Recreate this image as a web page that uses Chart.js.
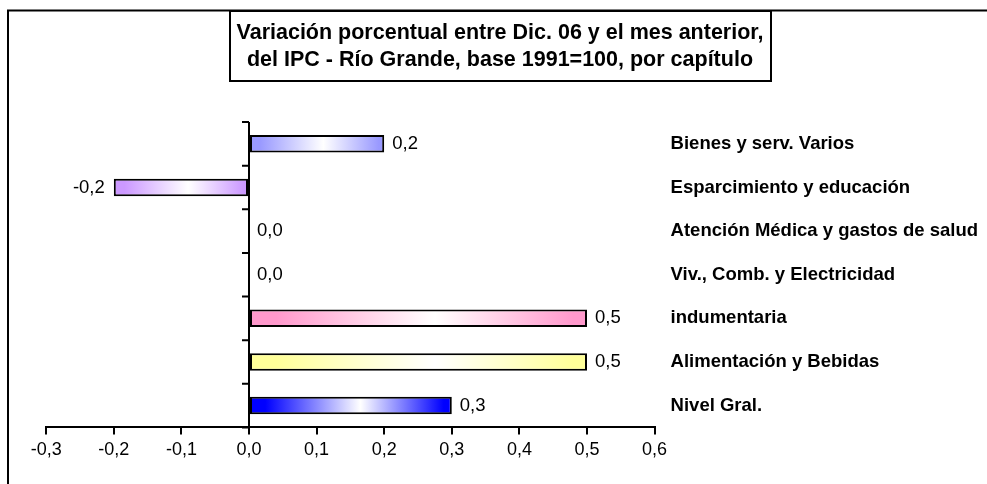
<!DOCTYPE html>
<html>
<head>
<meta charset="utf-8">
<script src="https://cdn.jsdelivr.net/npm/chart.js@4"></script>
<style>
  html, body { margin: 0; padding: 0; background: #fff; }
  #wrap { width: 987px; height: 484px; }
</style>
</head>
<body>
<div id="wrap"><canvas id="chart" width="987" height="484"></canvas></div>
<script>
const categories = [
    'Bienes y serv. Varios',
    'Esparcimiento y educación',
    'Atención Médica y gastos de salud',
    'Viv., Comb. y Electricidad',
    'indumentaria',
    'Alimentación y Bebidas',
    'Nivel Gral.'
];
const values = [0.2, -0.2, 0.0, 0.0, 0.5, 0.5, 0.3];
const barColors = ['#9999FF', '#CC99FF', '#99CCFF', '#FFCC99', '#FF99CC', '#FFFF99', '#0000FF'];
const titleLines = [
    'Variación porcentual entre Dic. 06 y el mes anterior,',
    'del IPC - Río Grande, base 1991=100, por capítulo'
];
const xMin = -0.3, xMax = 0.6, xStep = 0.1;

const FONT = "'Liberation Sans', Arial, sans-serif";
const TITLE_SIZE = 21.5;
const fmt = v => v.toFixed(1).replace('.', ',');

Chart.defaults.color = '#000';
Chart.defaults.font.family = FONT;

// bar fill: colour at both ends, white a bit right of the middle
function barFill(context) {
    const chart = context.chart;
    const c = barColors[context.dataIndex];
    if (!chart.chartArea) return c;
    const x = chart.scales.x;
    const x0 = x.getPixelForValue(0);
    const x1 = x.getPixelForValue(context.raw);
    if (Math.abs(x1 - x0) < 1) return c;
    const g = chart.ctx.createLinearGradient(Math.min(x0, x1), 0, Math.max(x0, x1), 0);
    g.addColorStop(0, c);
    g.addColorStop(0.08, c);
    g.addColorStop(0.55, '#FFFFFF');
    g.addColorStop(0.96, c);
    g.addColorStop(1, c);
    return g;
}

// outer frame (only left and top edges are visible in the picture)
const framePlugin = {
    id: 'frame',
    beforeDraw(chart) {
        const ctx = chart.ctx;
        ctx.save();
        ctx.strokeStyle = '#000';
        ctx.lineWidth = 2;
        ctx.beginPath();
        ctx.moveTo(8, chart.height);
        ctx.lineTo(8, 10.5);
        ctx.lineTo(chart.width, 10.5);
        ctx.stroke();
        ctx.restore();
    }
};

// box round the title
const titleBoxPlugin = {
    id: 'titleBox',
    afterDraw(chart) {
        const tb = chart.titleBlock;
        const ctx = chart.ctx;
        ctx.save();
        ctx.font = 'bold ' + TITLE_SIZE + 'px ' + FONT;
        const w = Math.max(...titleLines.map(t => ctx.measureText(t).width));
        const cx = (tb.left + tb.right) / 2;
        const top = tb.top + 11;
        const bottom = tb.top + 81;
        ctx.strokeStyle = '#000';
        ctx.lineWidth = 2;
        ctx.strokeRect(Math.round(cx - w / 2 - 7), top, Math.round(w + 14), bottom - top);
        ctx.restore();
    }
};

// vertical axis at zero with its tick marks between categories
const zeroAxisPlugin = {
    id: 'zeroAxis',
    afterDatasetsDraw(chart) {
        const ctx = chart.ctx;
        const x = chart.scales.x, y = chart.scales.y;
        const x0 = x.getPixelForValue(0);
        ctx.save();
        ctx.strokeStyle = '#000';
        ctx.lineWidth = 2;
        ctx.beginPath();
        ctx.moveTo(x0, chart.chartArea.top);
        ctx.lineTo(x0, chart.chartArea.bottom);
        for (let i = 0; i <= categories.length; i++) {
            const yy = y.getPixelForValue(i - 0.5);
            ctx.moveTo(x0 - 7, yy);
            ctx.lineTo(x0, yy);
        }
        ctx.stroke();
        ctx.restore();
    }
};

// value labels at the end of each bar
const valueLabelPlugin = {
    id: 'valueLabels',
    afterDatasetsDraw(chart) {
        const ctx = chart.ctx;
        const meta = chart.getDatasetMeta(0);
        ctx.save();
        ctx.font = '18.5px ' + FONT;
        ctx.fillStyle = '#000';
        ctx.textBaseline = 'middle';
        meta.data.forEach((bar, i) => {
            const v = values[i];
            if (v < 0) {
                ctx.textAlign = 'right';
                ctx.fillText(fmt(v), bar.x - 9, bar.y);
            } else {
                ctx.textAlign = 'left';
                ctx.fillText(fmt(v), bar.x + 8, bar.y);
            }
        });
        ctx.restore();
    }
};

new Chart(document.getElementById('chart'), {
    type: 'bar',
    data: {
        labels: categories,
        datasets: [{
            data: values,
            backgroundColor: barFill,
            borderColor: '#000',
            borderWidth: ctx => (ctx.raw === 0 ? 0 : 2),
            borderSkipped: false,
            categoryPercentage: 1,
            barPercentage: 0.4
        }]
    },
    options: {
        indexAxis: 'y',
        responsive: false,
        animation: false,
        layout: { padding: { left: 13, right: 0, top: 0, bottom: 18 } },
        plugins: {
            legend: { display: false },
            tooltip: { enabled: false },
            title: {
                display: true,
                text: titleLines,
                font: { family: FONT, size: TITLE_SIZE, weight: 'bold', lineHeight: 27 / TITLE_SIZE },
                color: '#000',
                padding: { top: 19.5, bottom: 48.5 }
            }
        },
        scales: {
            x: {
                type: 'linear',
                min: xMin,
                max: xMax,
                ticks: {
                    stepSize: xStep,
                    padding: 5,
                    font: { size: 18 },
                    callback: v => fmt(v)
                },
                grid: {
                    drawOnChartArea: false,
                    drawTicks: true,
                    tickLength: 7,
                    tickColor: '#000',
                    lineWidth: 2
                },
                border: { display: true, color: '#000', width: 2 }
            },
            y: {
                position: 'right',
                grid: { display: false, drawTicks: false },
                border: { display: false },
                ticks: {
                    padding: 16,
                    font: { size: 18.5, weight: 'bold' }
                },
                afterFit: s => { s.width = 332.4; }
            },
            // empty spacer on the left, keeps the plot where the picture has it
            yLeft: {
                type: 'category',
                position: 'left',
                labels: categories,
                ticks: { display: false },
                grid: { display: false, drawTicks: false },
                border: { display: false },
                afterFit: s => { s.width = 33.2; }
            }
        }
    },
    plugins: [framePlugin, titleBoxPlugin, zeroAxisPlugin, valueLabelPlugin]
});
</script>
</body>
</html>
